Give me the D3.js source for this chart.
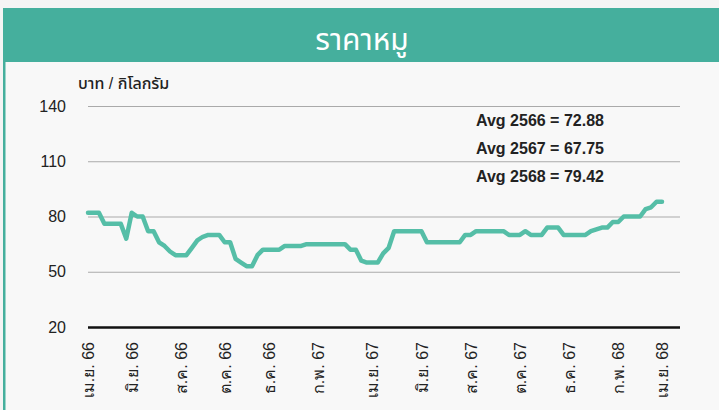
<!DOCTYPE html>
<html>
<head>
<meta charset="utf-8">
<script src="https://cdn.jsdelivr.net/npm/d3@7"></script>
<style>
  html, body { margin: 0; padding: 0; background: #f4f4f4; }
  #app { width: 719px; height: 410px; }
</style>
</head>
<body>
<div id="app"></div>
<script>
// DATA
const title = 'ราคาหมู';
const unitLabel = 'บาท / กิโลกรัม';

// weekly pig price, baht / kg, Apr 2566 .. Apr 2568
const prices = [
  82, 82, 82, 76, 76, 76, 76, 68, 82, 80,
  80, 72, 72, 66, 64, 61, 59, 59, 59, 63,
  67, 69, 70, 70, 70, 66, 66, 57, 55, 53,
  53, 59, 62, 62, 62, 62, 64, 64, 64, 64,
  65, 65, 65, 65, 65, 65, 65, 65, 62, 62,
  56, 55, 55, 55, 60, 63, 72, 72, 72, 72,
  72, 72, 66, 66, 66, 66, 66, 66, 66, 70,
  70, 72, 72, 72, 72, 72, 72, 70, 70, 70,
  72, 70, 70, 70, 74, 74, 74, 70, 70, 70,
  70, 70, 72, 73, 74, 74, 77, 77, 80, 80,
  80, 80, 84, 85, 88, 88
];

// every second month is labelled, at the week it falls in
const tickWeeks  = [0, 8, 17, 25, 33, 42, 52, 61, 70, 79, 88, 97, 105];
const tickLabels = ['เม.ย. 66', 'มิ.ย. 66', 'ส.ค. 66', 'ต.ค. 66', 'ธ.ค. 66', 'ก.พ. 67',
                    'เม.ย. 67', 'มิ.ย. 67', 'ส.ค. 67', 'ต.ค. 67', 'ธ.ค. 67', 'ก.พ. 68', 'เม.ย. 68'];

const yTicks = [20, 50, 80, 110, 140];

const avgYears  = [2566, 2567, 2568];
const avgValues = [72.88, 67.75, 79.42];

// LAYOUT
const W = 719, H = 410;
const TEAL = '#45af9d';
const LINE = '#55bea7';
const plot = { left: 88, right: 680, top: 106, bottom: 327 };

const svg = d3.select('#app')
  .append('svg')
  .attr('width', W)
  .attr('height', H)
  .style('font-family', 'Arial, "Liberation Sans", "Noto Sans Thai", sans-serif');

// background + frame
svg.append('rect')
  .attr('width', W).attr('height', H)
  .attr('fill', '#f4f4f4');

svg.append('rect')
  .attr('x', 5).attr('y', 62)
  .attr('width', W - 5).attr('height', H - 62)
  .attr('fill', '#f8f8f8');

svg.append('rect')
  .attr('x', 3).attr('y', 8)
  .attr('width', 2.5).attr('height', H - 8)
  .attr('fill', TEAL);

svg.append('rect')
  .attr('x', 3).attr('y', 8)
  .attr('width', W - 3).attr('height', 54)
  .attr('fill', TEAL);

svg.append('text')
  .attr('x', 362).attr('y', 50)
  .attr('text-anchor', 'middle')
  .attr('fill', '#fff')
  .style('font-family', '"Noto Sans Thai", "Noto Sans", sans-serif')
  .style('font-size', '30px')
  .style('font-weight', 400)
  .text(title);

// SCALES
const x = d3.scaleLinear()
  .domain([0, prices.length - 1])
  .range([plot.left, 662]);

const y = d3.scaleLinear()
  .domain([20, 140])
  .range([plot.bottom, plot.top]);

// Y AXIS + GRID
const yAxis = svg.append('g')
  .attr('transform', `translate(${plot.left},0)`)
  .call(d3.axisLeft(y)
    .tickValues(yTicks)
    .tickSize(-(plot.right - plot.left))
    .tickPadding(22));

yAxis.select('.domain').remove();
yAxis.selectAll('.tick line')
  .attr('stroke', d => d === 20 ? '#111' : '#aaa')
  .attr('stroke-width', d => d === 20 ? 2.5 : 1);
yAxis.selectAll('.tick text')
  .attr('fill', '#222')
  .style('font-size', '16px');

svg.append('text')
  .attr('x', 78).attr('y', 89)
  .attr('fill', '#222')
  .style('font-size', '16px')
  .style('font-weight', 500)
  .text(unitLabel);

// X AXIS
const xAxis = svg.append('g')
  .attr('transform', `translate(0,${plot.bottom})`)
  .call(d3.axisBottom(x)
    .tickValues(tickWeeks)
    .tickFormat((d, i) => tickLabels[i])
    .tickSize(0));

xAxis.select('.domain').remove();
xAxis.selectAll('.tick text')
  .attr('fill', '#222')
  .style('font-size', '16px')
  .attr('text-anchor', 'end')
  .attr('transform', 'rotate(-90)')
  .attr('x', -15)
  .attr('y', 0)
  .attr('dy', '0.35em');

// LINE
const line = d3.line()
  .x((d, i) => x(i))
  .y(d => y(d));

svg.append('path')
  .datum(prices)
  .attr('d', line)
  .attr('fill', 'none')
  .attr('stroke', LINE)
  .attr('stroke-width', 4.5)
  .attr('stroke-linejoin', 'round')
  .attr('stroke-linecap', 'round');

// AVERAGES
svg.selectAll('.avg')
  .data(avgYears)
  .enter()
    .append('text')
    .attr('class', 'avg')
    .attr('x', 476)
    .attr('y', (d, i) => 126 + i * 28)
    .attr('fill', '#222')
    .style('font-size', '16px')
    .style('font-weight', 'bold')
    .text((d, i) => `Avg ${d} = ${avgValues[i].toFixed(2)}`);
</script>
</body>
</html>
